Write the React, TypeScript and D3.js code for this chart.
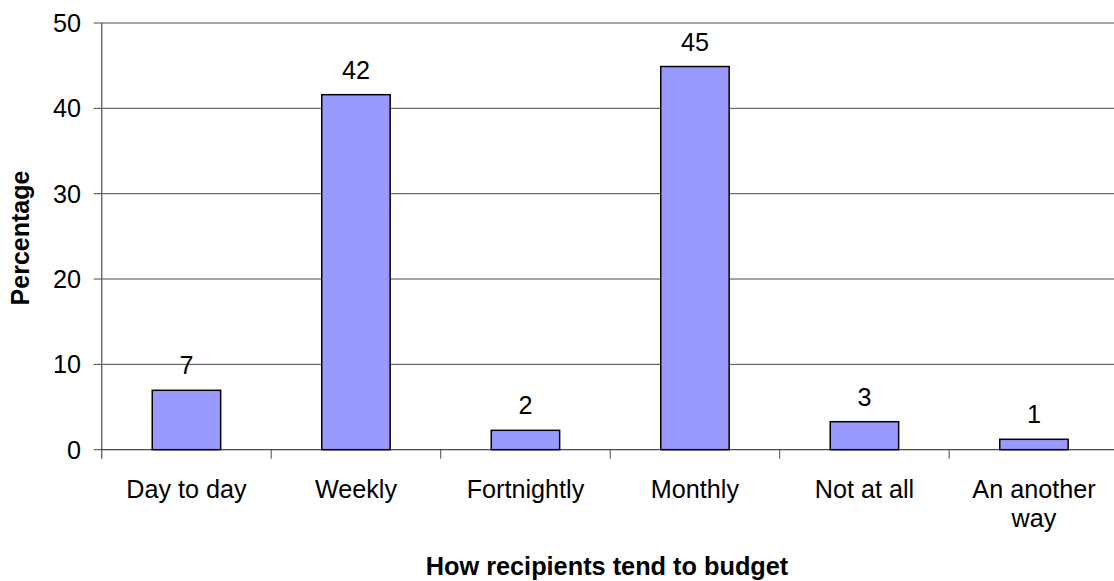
import React from "react";
import * as d3 from "d3";

const categories: string[][] = [
  ["Day to day"],
  ["Weekly"],
  ["Fortnightly"],
  ["Monthly"],
  ["Not at all"],
  ["An another", "way"],
];
const values: number[] = [6.96, 41.6, 2.27, 44.9, 3.28, 1.22];
const valueLabels: string[] = ["7", "42", "2", "45", "3", "1"];
const yTicks: number[] = [0, 10, 20, 30, 40, 50];
const xTitle = "How recipients tend to budget";
const yTitle = "Percentage";

const W = 1114;
const H = 581;
const left = 101.7;
const bandW = 169.5;
const top = 23;
const bottom = 449.7;
const FONT = "'Liberation Sans', Arial, sans-serif";
const FS = 25.2;

export default function App() {
  const x = d3
    .scaleBand<number>()
    .domain(categories.map((_, i) => i))
    .range([left, left + bandW * categories.length])
    .padding(0);
  const y = d3.scaleLinear().domain([0, 50]).range([bottom, top]);
  const bw = x.bandwidth() * 0.4035;

  return (
    <svg
      width={W}
      height={H}
      style={{ position: "absolute", left: 0, top: 0, display: "block", background: "#fff" }}
      fontFamily={FONT}
    >
      {yTicks.filter((t) => t > 0).map((t) => (
        <line key={"g" + t} x1={left} x2={x.range()[1]} y1={y(t)} y2={y(t)} stroke="#4a4a4a" strokeWidth={1} />
      ))}
      <line x1={left} x2={left} y1={y(50)} y2={bottom + 9} stroke="#6e6e6e" strokeWidth={1.5} />
      {yTicks.map((t) => (
        <g key={"t" + t}>
          <line x1={left - 8} x2={left} y1={y(t)} y2={y(t)} stroke="#4a4a4a" strokeWidth={1} />
          <text x={81} y={y(t)} dy="0.35em" textAnchor="end" fontSize={FS} fill="#000">
            {t}
          </text>
        </g>
      ))}
      <line x1={left} x2={x.range()[1]} y1={bottom} y2={bottom} stroke="#4a4a4a" strokeWidth={1.2} />
      {categories.map((_, i) => (
        <line key={"xt" + i} x1={x(i)! + bandW} x2={x(i)! + bandW} y1={bottom} y2={bottom + 9} stroke="#4a4a4a" strokeWidth={1} />
      ))}
      {values.map((v, i) => {
        const cx = x(i)! + x.bandwidth() / 2;
        return (
          <g key={"b" + i}>
            <rect
              x={cx - bw / 2}
              y={y(v)}
              width={bw}
              height={bottom - y(v)}
              fill="#9999FF"
              stroke="#000"
              strokeWidth={1.5}
            />
            <text x={cx} y={y(v) - 16} textAnchor="middle" fontSize={FS} fill="#000">
              {valueLabels[i]}
            </text>
          </g>
        );
      })}
      {categories.map((lines, i) => {
        const cx = x(i)! + x.bandwidth() / 2;
        return (
          <text key={"c" + i} x={cx} y={498} textAnchor="middle" fontSize={FS} fill="#000">
            {lines.map((l, j) => (
              <tspan key={j} x={cx} dy={j === 0 ? 0 : 29}>
                {l}
              </tspan>
            ))}
          </text>
        );
      })}
      <text x={607} y={575} textAnchor="middle" fontSize={25.3} fontWeight="bold" fill="#000">
        {xTitle}
      </text>
      <text
        transform={`translate(29,238) rotate(-90)`}
        textAnchor="middle"
        fontSize={25}
        fontWeight="bold"
        fill="#000"
      >
        {yTitle}
      </text>
    </svg>
  );
}
